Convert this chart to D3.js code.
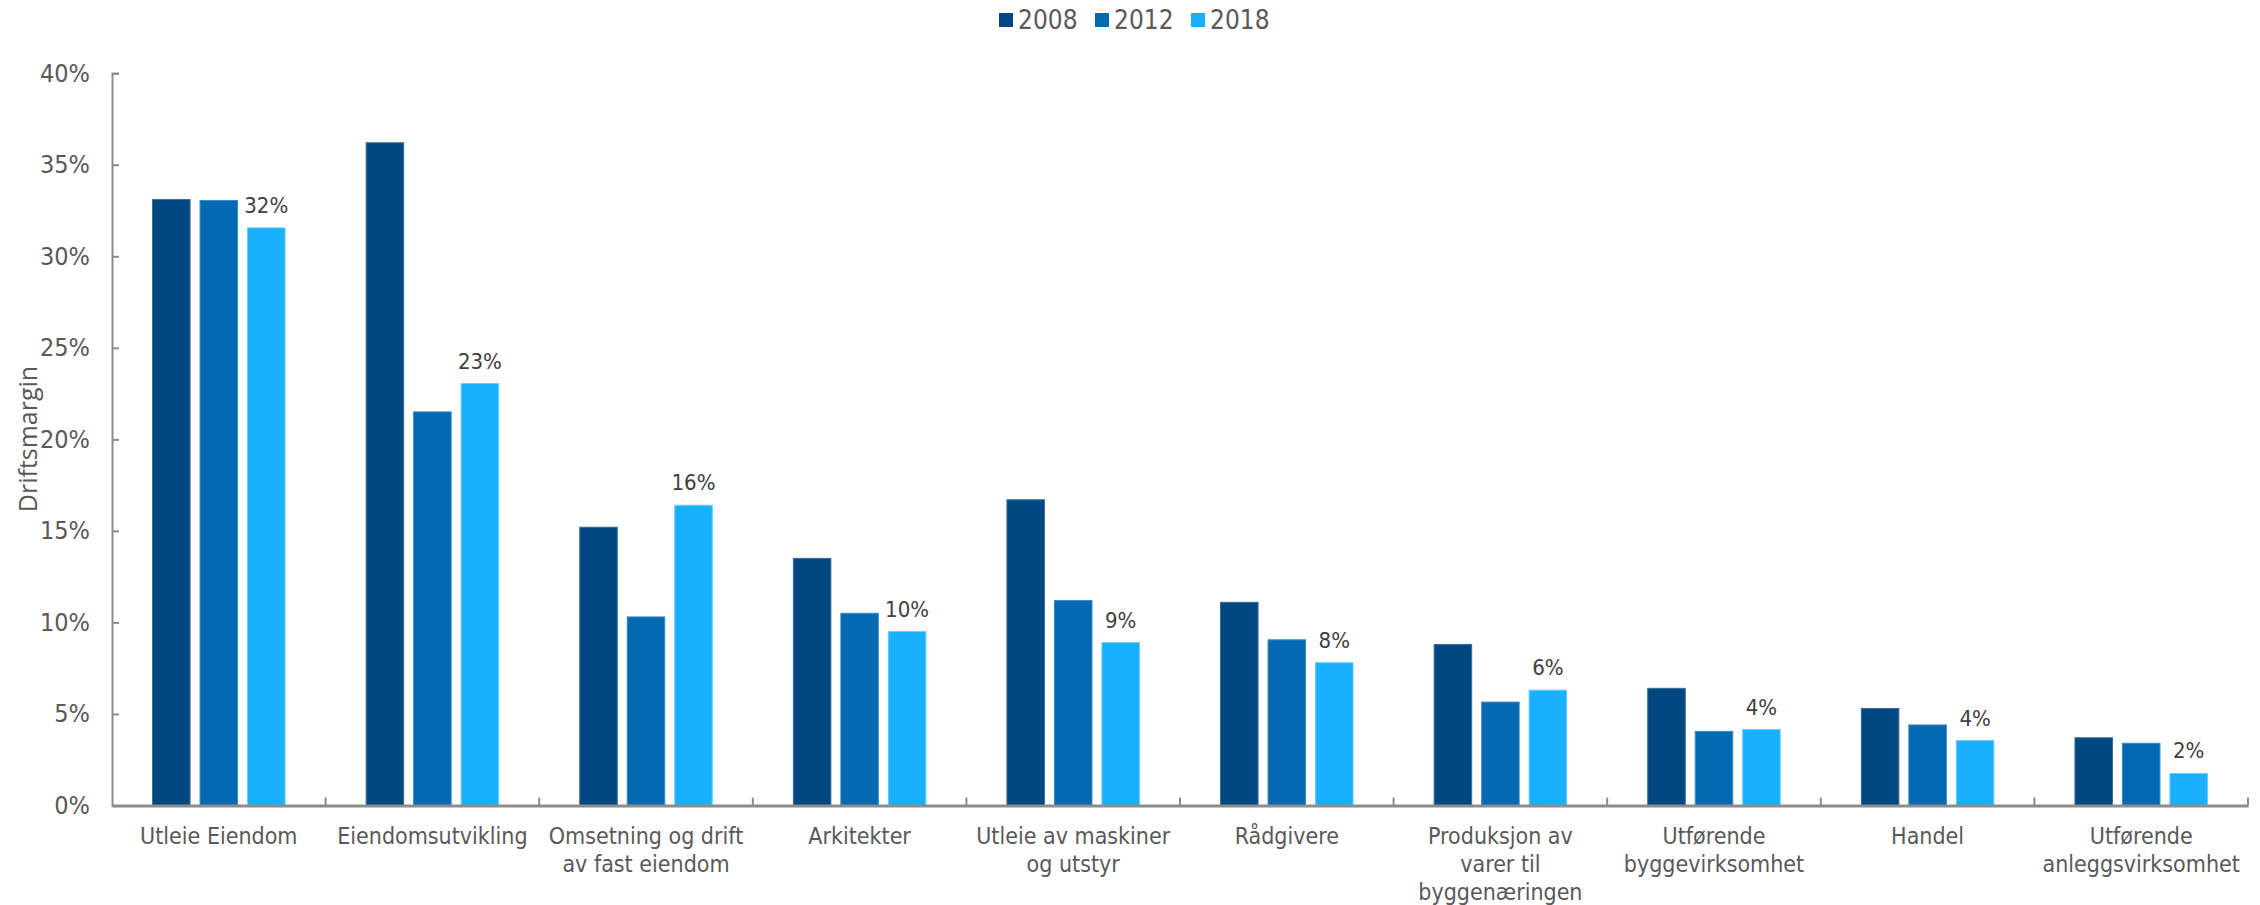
<!DOCTYPE html>
<html>
<head>
<meta charset="utf-8">
<script src="https://cdn.jsdelivr.net/npm/d3@7"></script>
<style>
  html, body { margin: 0; padding: 0; background: #ffffff; }
  svg { display: block; }
</style>
</head>
<body>
<svg id="chart" width="2260" height="905"></svg>
<script>
// ---------- data ----------
const categories = [
  ["Utleie Eiendom"],
  ["Eiendomsutvikling"],
  ["Omsetning og drift", "av fast eiendom"],
  ["Arkitekter"],
  ["Utleie av maskiner", "og utstyr"],
  ["Rådgivere"],
  ["Produksjon av", "varer til", "byggenæringen"],
  ["Utførende", "byggevirksomhet"],
  ["Handel"],
  ["Utførende", "anleggsvirksomhet"]
];
const seriesNames = ["2008", "2012", "2018"];
const values2008 = [33.1, 36.2, 15.2, 13.5, 16.7, 11.1, 8.8, 6.4, 5.3, 3.7];
const values2012 = [33.05, 21.5, 10.3, 10.5, 11.2, 9.05, 5.65, 4.05, 4.4, 3.4];
const values2018 = [31.55, 23.05, 16.4, 9.5, 8.9, 7.8, 6.3, 4.15, 3.55, 1.75];
const dataLabels2018 = ["32%", "23%", "16%", "10%", "9%", "8%", "6%", "4%", "4%", "2%"];
const yTicks = [0, 5, 10, 15, 20, 25, 30, 35, 40];
const yTitle = "Driftsmargin";

// ---------- styles ----------
const colors = ["#004881", "#0369B2", "#19B1FF"];
const strokeColors = ["#3a6d9a", "#3a8ac4", "#6ccbff"];
const condensed = "'Liberation Sans Narrow', 'DejaVu Sans Condensed', sans-serif";
const textColor = "#595959";
const axisColor = "#8c8c8c";

const svg = d3.select("#chart");
const plot = { left: 112, right: 2248, top: 73.2, bottom: 805.5 };

const catKeys = categories.map((c, i) => i);
const allSeries = [values2008, values2012, values2018];

const x = d3.scaleBand().domain(catKeys).range([plot.left, plot.right]).paddingInner(0).paddingOuter(0);
const groupW = 132.5;
const xi = d3.scaleBand().domain(seriesNames)
  .range([(x.bandwidth() - groupW) / 2, (x.bandwidth() + groupW) / 2])
  .paddingInner(0.21).paddingOuter(0);
const y = d3.scaleLinear().domain([0, 40]).range([plot.bottom, plot.top]);

// bars
const groups = svg.append("g").selectAll("g")
  .data(catKeys).join("g")
  .attr("transform", d => `translate(${x(d)},0)`);

groups.selectAll("rect")
  .data(i => seriesNames.map((s, k) => ({ s, k, v: allSeries[k][i] })))
  .join("rect")
  .attr("x", d => xi(d.s))
  .attr("width", xi.bandwidth())
  .attr("y", d => y(d.v))
  .attr("height", d => y(0) - y(d.v))
  .attr("fill", d => colors[d.k])
  .attr("stroke", d => strokeColors[d.k])
  .attr("stroke-width", 1);

// data labels for 2018
groups.append("text")
  .attr("x", xi("2018") + xi.bandwidth() / 2)
  .attr("y", i => y(values2018[i]) - 15)
  .attr("text-anchor", "middle")
  .attr("font-family", condensed)
  .attr("font-size", 22)
  .attr("fill", "#404040")
  .text(i => dataLabels2018[i]);

// y axis
const yAxis = d3.axisLeft(y).tickValues(yTicks).tickFormat(d => d + "%")
  .tickSizeInner(-7).tickSizeOuter(-7).tickPadding(22);
const gy = svg.append("g").attr("transform", `translate(${plot.left},0)`).call(yAxis);
gy.select(".domain").attr("stroke", axisColor).attr("stroke-width", 2);
gy.selectAll(".tick line").attr("stroke", axisColor).attr("stroke-width", 2);
gy.selectAll(".tick text").attr("font-family", condensed).attr("font-size", 25).attr("fill", textColor);

// x axis baseline + boundary ticks
const xAxis = d3.axisBottom(x).tickSize(0).tickFormat("");
const gx = svg.append("g").attr("transform", `translate(0,${plot.bottom})`).call(xAxis);
gx.select(".domain").attr("stroke", axisColor).attr("stroke-width", 3);
const bounds = catKeys.map(k => x(k)).concat([plot.right]).slice(1);
gx.selectAll(".bound").data(bounds).join("line")
  .attr("class", "bound")
  .attr("x1", d => d).attr("x2", d => d)
  .attr("y1", 0).attr("y2", -8)
  .attr("stroke", axisColor).attr("stroke-width", 2);

// category labels
const labels = svg.append("g").selectAll("text")
  .data(catKeys).join("text")
  .attr("x", k => x(k) + x.bandwidth() / 2)
  .attr("y", 844)
  .attr("text-anchor", "middle")
  .attr("font-family", condensed)
  .attr("font-size", 23)
  .attr("fill", textColor);
labels.selectAll("tspan")
  .data(k => categories[k])
  .join("tspan")
  .attr("x", function () { return d3.select(this.parentNode).attr("x"); })
  .attr("dy", (d, j) => j === 0 ? 0 : 28)
  .text(d => d);

// y title
svg.append("text")
  .attr("transform", "translate(37,439) rotate(-90)")
  .attr("text-anchor", "middle")
  .attr("font-family", "'Open Sans', sans-serif")
  .attr("font-size", 25)
  .attr("fill", textColor)
  .text(yTitle);

// legend
const legendX = d3.scaleBand().domain(seriesNames).range([999, 1287]);
const lg = svg.append("g").selectAll("g").data(seriesNames).join("g")
  .attr("transform", d => `translate(${legendX(d)},0)`);
lg.append("rect").attr("x", 0).attr("y", 13).attr("width", 14).attr("height", 14)
  .attr("fill", (d, k) => colors[k]);
lg.append("text").attr("x", 19).attr("y", 29)
  .attr("font-family", condensed).attr("font-size", 26).attr("fill", textColor)
  .text(d => d);
</script>
</body>
</html>
